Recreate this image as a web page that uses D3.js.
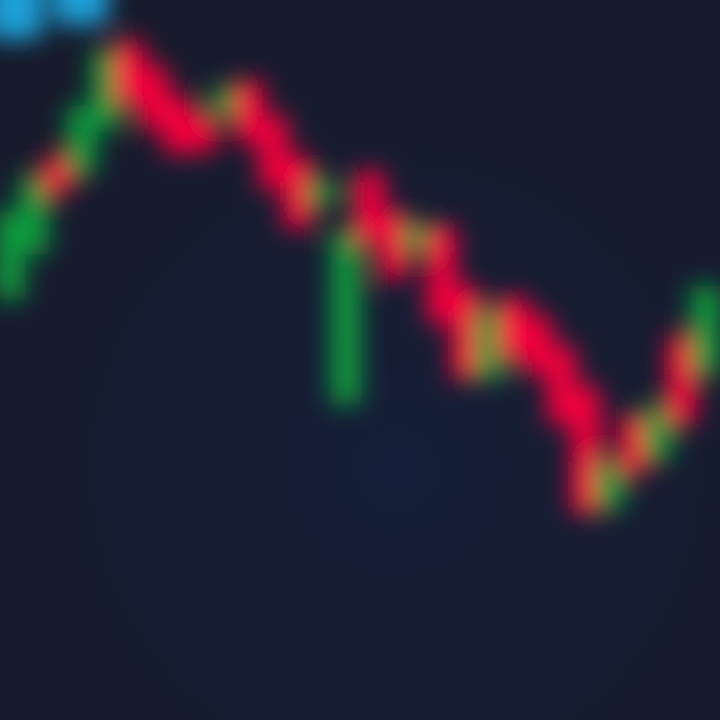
<!DOCTYPE html>
<html>
<head>
<meta charset="utf-8">
<script src="https://cdn.jsdelivr.net/npm/d3@7/dist/d3.min.js"></script>
<style>
  html, body { margin: 0; padding: 0; background: #161c2e; }
  svg { display: block; }
</style>
</head>
<body>
<svg id="chart" width="720" height="720"></svg>
<script>
// Candle index (time), open and close prices
const candleIndex = d3.range(30);
const openValues  = [59.0, 65.3, 77.8, 76.4, 82.6, 93.8, 90.3, 86.1, 83.6, 84.4,
                     88.2, 83.3, 77.8, 72.2, 44.4, 75.7, 70.1, 65.6, 68.1, 59.7,
                     47.9, 58.3, 55.6, 51.4, 45.8, 29.9, 41.7, 36.8, 52.8, 48.6];
const closeValues = [70.1, 75.0, 73.6, 84.7, 92.4, 86.1, 82.6, 79.2, 79.4, 87.2,
                     80.6, 74.3, 68.8, 74.3, 67.4, 66.7, 61.8, 68.3, 55.6, 47.9,
                     56.3, 50.7, 48.6, 41.7, 29.2, 35.4, 34.7, 43.1, 41.7, 59.7];
// Cyan highlight markers at the top-left
const markerIndex = [0.2, 2.95];
const markerTop    = [104, 104];
const markerBottom = [94.5, 96.5];

const W = 720, H = 720;
const svg = d3.select("#chart");

const defs = svg.append("defs");
const blur = defs.append("filter").attr("id", "blur")
  .attr("filterUnits", "userSpaceOnUse")
  .attr("x", -100).attr("y", -100).attr("width", W + 200).attr("height", H + 200);
blur.append("feGaussianBlur").attr("stdDeviation", 12);

const bg = defs.append("radialGradient").attr("id", "bg")
  .attr("cx", "55%").attr("cy", "65%").attr("r", "70%");
bg.append("stop").attr("offset", "0%").attr("stop-color", "#151e38");
bg.append("stop").attr("offset", "100%").attr("stop-color", "#171b2c");

svg.append("rect").attr("width", W).attr("height", H).attr("fill", "url(#bg)");

const x = d3.scaleLinear().domain([0, 29]).range([10, 706]);
const y = d3.scaleLinear().domain([0, 100]).range([H, 0]);

const candles = candleIndex.map((i) => ({ i, open: openValues[i], close: closeValues[i] }));
const bodyW = 30;

const g = svg.append("g").attr("filter", "url(#blur)");

g.selectAll("rect.marker")
  .data(markerIndex.map((m, k) => ({ m, top: markerTop[k], bottom: markerBottom[k] })))
  .join("rect")
  .attr("class", "marker")
  .attr("x", d => x(d.m) - 28)
  .attr("width", 56)
  .attr("y", d => y(d.top))
  .attr("height", d => y(d.bottom) - y(d.top))
  .attr("rx", 10)
  .attr("fill", "#1aa0d8");

g.selectAll("rect.candle")
  .data(candles)
  .join("rect")
  .attr("class", "candle")
  .attr("x", d => x(d.i) - bodyW / 2)
  .attr("width", bodyW)
  .attr("y", d => y(Math.max(d.open, d.close)) - 4)
  .attr("height", d => Math.max(8, Math.abs(y(d.open) - y(d.close)) + 8))
  .attr("fill", d => d.close >= d.open ? "#0c9a3e" : "#f5053d");
</script>
</body>
</html>
